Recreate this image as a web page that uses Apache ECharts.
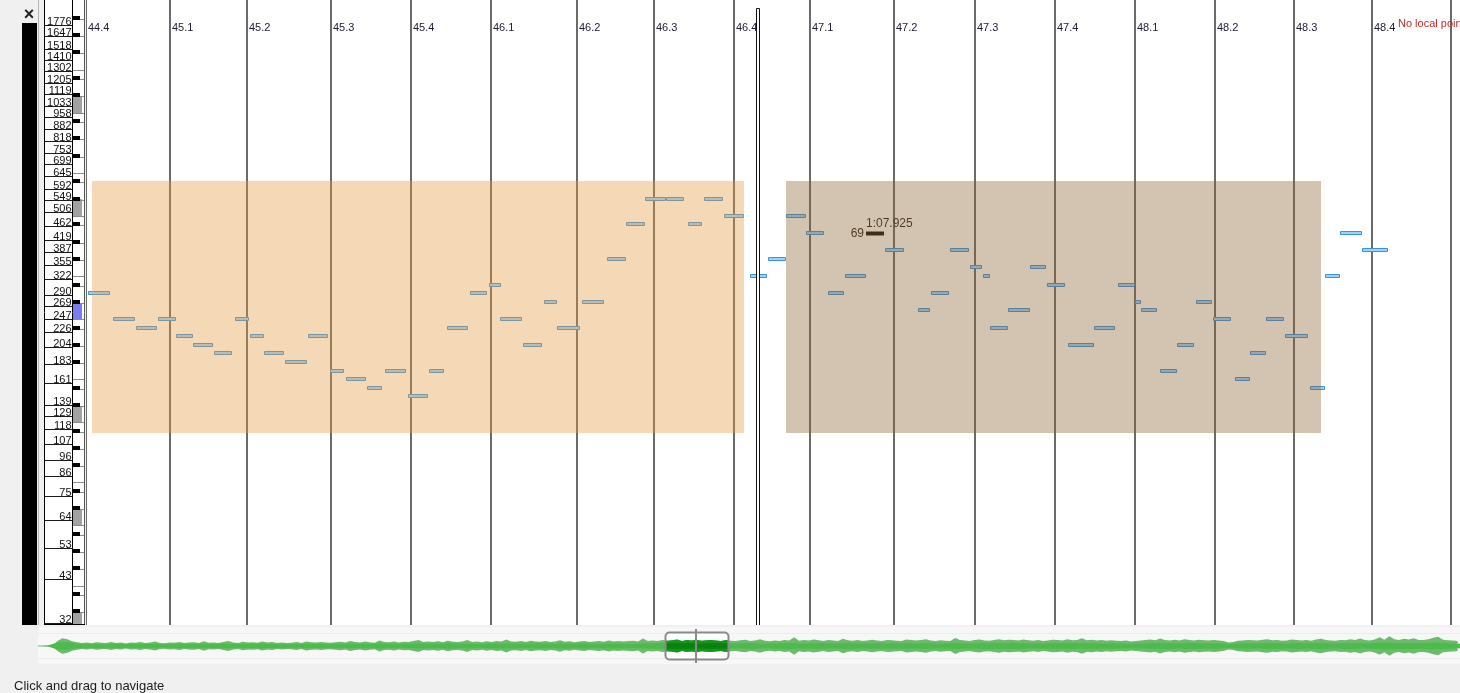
<!DOCTYPE html>
<html>
<head>
<meta charset="utf-8">
<script src="https://cdn.jsdelivr.net/npm/echarts@6/dist/echarts.min.js"></script>
<style>
  html, body { margin: 0; padding: 0; background: #f0f0f0; }
  #chart { width: 1460px; height: 693px; }
</style>
</head>
<body>
<div id="chart"></div>
<script>
// ---- time window of the pitch view (seconds) ----
const VIEW_START = 64.26;
const VIEW_END = 70.717;
const PLAYHEAD = 67.416;

// ---- frequency range of the log pitch axis (Hz) ----
const FREQ_MIN = 31.63;
const FREQ_MAX = 2104;

// ---- bar.beat grid ----
const beatTimes = [64.260, 64.655, 65.017, 65.411, 65.787, 66.163, 66.567, 66.929, 67.305,
                   67.662, 68.057, 68.438, 68.814, 69.189, 69.565, 69.937, 70.303, 70.674];
const beatLabels = ['44.4', '45.1', '45.2', '45.3', '45.4', '46.1', '46.2', '46.3', '46.4',
                    '47.1', '47.2', '47.3', '47.4', '48.1', '48.2', '48.3', '48.4'];

// ---- frequency scale labels (Hz) ----
const freqLabels = [1776, 1647, 1518, 1410, 1302, 1205, 1119, 1033, 958, 882, 818, 753, 699, 645,
                    592, 549, 506, 462, 419, 387, 355, 322, 290, 269, 247, 226, 204, 183, 161,
                    139, 129, 118, 107, 96, 86, 75, 64, 53, 43, 32];

// ---- piano keyboard range (MIDI) ----
const keyRange = [23, 95];
const middleC = 60;

// ---- notes: start (s), duration (s), MIDI pitch ----
const noteStarts = [
  64.269, 64.387, 64.495, 64.598, 64.683, 64.763, 64.862, 64.960, 65.031, 65.096,
  65.195, 65.303, 65.407, 65.482, 65.580, 65.665, 65.773, 65.872, 65.956, 66.064,
  66.154, 66.205, 66.314, 66.412, 66.473, 66.591, 66.708, 66.798, 66.887, 66.985,
  67.089, 67.164, 67.258, 67.380, 67.465, 67.549, 67.643, 67.747, 67.827, 67.925,
  68.015, 68.170, 68.231, 68.320, 68.414, 68.475, 68.508, 68.593, 68.696, 68.776,
  68.875, 68.997, 69.110, 69.189, 69.218, 69.307, 69.387, 69.476, 69.556, 69.659,
  69.730, 69.805, 69.894, 70.012, 70.082, 70.153, 70.256
];
const noteDurations = [
  0.103, 0.103, 0.099, 0.085, 0.080, 0.094, 0.085, 0.066, 0.066, 0.094,
  0.103, 0.094, 0.066, 0.094, 0.070, 0.099, 0.094, 0.070, 0.099, 0.080,
  0.056, 0.103, 0.089, 0.061, 0.108, 0.103, 0.089, 0.089, 0.099, 0.085,
  0.066, 0.089, 0.094, 0.080, 0.085, 0.094, 0.085, 0.075, 0.099, 0.085,
  0.089, 0.056, 0.085, 0.089, 0.056, 0.033, 0.085, 0.103, 0.075, 0.085,
  0.122, 0.099, 0.080, 0.028, 0.075, 0.080, 0.080, 0.075, 0.085, 0.070,
  0.075, 0.085, 0.108, 0.070, 0.070, 0.103, 0.122
];
const notePitches = [
  62, 59, 58, 59, 57, 56, 55, 59, 57, 55,
  54, 57, 53, 52, 51, 53, 50, 53, 58, 62,
  63, 59, 56, 61, 58, 61, 66, 70, 73, 73,
  70, 73, 71, 64, 66, 71, 69, 62, 64, 69,
  67, 60, 62, 67, 65, 64, 58, 60, 65, 63,
  56, 58, 63, 61, 60, 53, 56, 61, 59, 52,
  55, 59, 57, 51, 64, 69, 67
];
const selectedNote = 39;

// ---- regions: time span and frequency span ----
const regionStarts = [64.288, 67.549];
const regionEnds = [67.352, 70.064];
const regionLow = [115, 115];
const regionHigh = [624, 624];

// ---- overview waveform (whole track) ----
const OVERVIEW_END = 145.74;
const PEAK_STEP = 0.5;   // seconds per peak value
const RMS_STEP = 1;      // seconds per rms value
const wavePeak = [
  0.02, 0.02, 0.03, 0.04, 0.30, 0.45, 0.40, 0.28, 0.22, 0.18, 0.20, 0.16, 0.22, 0.19, 0.17, 0.24, 0.18, 0.20, 0.15, 0.21,
  0.19, 0.23, 0.17, 0.20, 0.26, 0.18, 0.16, 0.21, 0.19, 0.24, 0.17, 0.20, 0.22, 0.18, 0.28, 0.19, 0.21, 0.17, 0.23, 0.30,
  0.21, 0.18, 0.25, 0.20, 0.22, 0.19, 0.27, 0.21, 0.24, 0.18, 0.20, 0.17, 0.19, 0.23, 0.18, 0.26, 0.22, 0.20, 0.24, 0.21,
  0.19, 0.22, 0.25, 0.20, 0.30, 0.23, 0.21, 0.26, 0.22, 0.19, 0.33, 0.24, 0.22, 0.27, 0.21, 0.25, 0.23, 0.29, 0.36, 0.24,
  0.26, 0.23, 0.28, 0.22, 0.31, 0.25, 0.24, 0.27, 0.35, 0.23, 0.26, 0.22, 0.28, 0.24, 0.30, 0.26, 0.38, 0.27, 0.25, 0.29,
  0.24, 0.31, 0.27, 0.25, 0.29, 0.23, 0.26, 0.34, 0.25, 0.28, 0.22, 0.27, 0.30, 0.24, 0.26, 0.29, 0.25, 0.32, 0.27, 0.30,
  0.26, 0.29, 0.31, 0.27, 0.44, 0.30, 0.33, 0.29, 0.36, 0.31, 0.34, 0.38, 0.30, 0.35, 0.33, 0.37, 0.31, 0.34, 0.36, 0.32,
  0.30, 0.35, 0.31, 0.29, 0.34, 0.37, 0.30, 0.33, 0.40, 0.31, 0.28, 0.33, 0.30, 0.36, 0.32, 0.52, 0.31, 0.35, 0.33, 0.38,
  0.34, 0.30, 0.36, 0.33, 0.29, 0.42, 0.34, 0.31, 0.35, 0.30, 0.33, 0.37, 0.32, 0.30, 0.36, 0.34, 0.31, 0.29, 0.38, 0.35,
  0.32, 0.36, 0.40, 0.33, 0.30, 0.34, 0.31, 0.29, 0.47, 0.35, 0.32, 0.30, 0.35, 0.38, 0.33, 0.31, 0.36, 0.40, 0.34, 0.37,
  0.36, 0.33, 0.38, 0.34, 0.31, 0.35, 0.30, 0.33, 0.37, 0.35, 0.33, 0.39, 0.34, 0.36, 0.45, 0.34, 0.37, 0.33, 0.35, 0.31,
  0.34, 0.31, 0.29, 0.33, 0.27, 0.30, 0.33, 0.36, 0.38, 0.34, 0.44, 0.36, 0.33, 0.37, 0.32, 0.39, 0.35, 0.33, 0.37, 0.34,
  0.32, 0.35, 0.33, 0.30, 0.20, 0.24, 0.31, 0.33, 0.36, 0.34, 0.32, 0.37, 0.40, 0.34, 0.36, 0.31, 0.33, 0.38, 0.35, 0.33,
  0.35, 0.31, 0.38, 0.42, 0.36, 0.33, 0.31, 0.35, 0.34, 0.39, 0.36, 0.44, 0.35, 0.33, 0.38, 0.52, 0.37, 0.58, 0.40, 0.36,
  0.42, 0.38, 0.45, 0.36, 0.35, 0.40, 0.48, 0.55, 0.37, 0.34, 0.32, 0.30
];
const waveRms = [
  0.02, 0.03, 0.20, 0.22, 0.13, 0.10, 0.11, 0.09, 0.12, 0.10,
  0.11, 0.12, 0.10, 0.09, 0.11, 0.12, 0.10, 0.10, 0.12, 0.13,
  0.11, 0.10, 0.12, 0.13, 0.11, 0.10, 0.09, 0.11, 0.12, 0.12,
  0.10, 0.11, 0.13, 0.12, 0.11, 0.14, 0.12, 0.11, 0.12, 0.15,
  0.13, 0.12, 0.14, 0.12, 0.13, 0.11, 0.12, 0.14, 0.15, 0.13,
  0.12, 0.15, 0.13, 0.12, 0.14, 0.12, 0.14, 0.12, 0.13, 0.14,
  0.13, 0.12, 0.14, 0.15, 0.17, 0.16, 0.18, 0.16, 0.15, 0.17,
  0.16, 0.14, 0.15, 0.17, 0.14, 0.13, 0.16, 0.18, 0.14, 0.15,
  0.17, 0.14, 0.15, 0.18, 0.15, 0.14, 0.16, 0.15, 0.14, 0.16,
  0.15, 0.17, 0.15, 0.14, 0.18, 0.15, 0.14, 0.17, 0.16, 0.17,
  0.17, 0.16, 0.14, 0.15, 0.17, 0.16, 0.18, 0.16, 0.17, 0.15,
  0.16, 0.14, 0.13, 0.15, 0.16, 0.18, 0.17, 0.15, 0.17, 0.16,
  0.15, 0.16, 0.10, 0.14, 0.16, 0.15, 0.17, 0.16, 0.15, 0.17,
  0.15, 0.17, 0.16, 0.15, 0.18, 0.17, 0.15, 0.18, 0.20, 0.17,
  0.18, 0.17, 0.16, 0.20, 0.17, 0.14, 0.13
];

// ---------------------------------------------------------------------------
const FONT = '"Liberation Sans", Arial, sans-serif';
const pitchHz = m => 440 * Math.pow(2, (m - 69) / 12);

function fmtTime(t) {
  const m = Math.floor(t / 60);
  const s = t - m * 60;
  return m + ':' + (s < 10 ? '0' : '') + s.toFixed(3);
}

function txt(x, y, text, fill, font, align, valign, extra) {
  return Object.assign({
    type: 'text', x: x, y: y,
    style: {
      text: text, fill: fill, font: font,
      align: align, textAlign: align, verticalAlign: valign, textVerticalAlign: valign
    }
  }, extra || {});
}

// notes
const noteData = noteStarts.map((s, i) => [s, pitchHz(notePitches[i]), noteDurations[i], i, notePitches[i]]);

function renderNote(params, api) {
  const idx = api.value(3);
  const hz = api.value(1);
  const p0 = api.coord([api.value(0), hz]);
  const p1 = api.coord([api.value(0) + api.value(2), hz]);
  const xa = Math.round(p0[0]), xb = Math.round(p1[0]);
  const y = Math.round(p0[1]);
  if (idx === selectedNote) {
    return {
      type: 'group',
      children: [
        { type: 'rect', shape: { x: xa, y: y - 1.5, width: xb - xa, height: 4 }, style: { fill: '#140c06' } },
        txt(xa - 2, y + 0.5, String(api.value(4)), '#2a2118', '12px ' + FONT, 'right', 'middle'),
        txt(xa, y - 9, fmtTime(api.value(0)), '#2a1f1a', '12px ' + FONT, 'left', 'middle')
      ]
    };
  }
  return {
    type: 'rect',
    shape: { x: xa + 0.5, y: y - 1.5, width: xb - xa - 1, height: 3 },
    style: { fill: '#a3d0f6', stroke: '#3893e2', lineWidth: 1 }
  };
}

// regions
const regionData = regionStarts.map((s, i) => [s, regionLow[i], regionEnds[i], regionHigh[i], i]);
const regionFills = ['rgba(229,155,63,0.38)', 'rgba(139,100,52,0.38)'];
function renderRegion(params, api) {
  const a = api.coord([api.value(0), api.value(3)]);
  const b = api.coord([api.value(2), api.value(1)]);
  return {
    type: 'rect',
    shape: { x: Math.round(a[0]), y: Math.round(a[1]), width: Math.round(b[0]) - Math.round(a[0]), height: Math.round(b[1]) - Math.round(a[1]) },
    style: { fill: regionFills[api.value(4)] }
  };
}

// beat lines and labels
const beatData = beatTimes.map((t, i) => [t, FREQ_MAX, i]);
function renderBeatLine(params, api) {
  const cs = params.coordSys;
  const x = Math.round(api.coord([api.value(0), FREQ_MAX])[0]);
  return {
    type: 'line',
    shape: { x1: x, y1: cs.y, x2: x, y2: cs.y + cs.height },
    style: { stroke: '#6a6a6a', lineWidth: 2 }
  };
}
function renderBeatLabel(params, api) {
  const label = beatLabels[api.value(2)];
  if (label === undefined) return null;
  const x = Math.round(api.coord([api.value(0), FREQ_MAX])[0]);
  return txt(x + 2, params.coordSys.y + 28, label, '#1c1c36', '11px ' + FONT, 'left', 'middle');
}

// playhead in the main view
function renderPlayhead(params, api) {
  const cs = params.coordSys;
  const x = Math.round(api.coord([api.value(0), FREQ_MAX])[0]);
  return {
    type: 'rect',
    shape: { x: x - 1.5, y: cs.y + 8.5, width: 3, height: cs.height - 8 },
    style: { fill: '#ffffff', stroke: '#111111', lineWidth: 1 }
  };
}

// frequency labels column
const freqData = freqLabels.map(f => [0, f]);
function renderFreqLabel(params, api) {
  const x0 = params.coordSys.x;
  const y = Math.round(api.coord([0, api.value(1)])[1]);
  return {
    type: 'group',
    children: [
      { type: 'line', shape: { x1: x0, y1: y + 0.5, x2: x0 + 28, y2: y + 0.5 }, style: { stroke: '#1a1a1a', lineWidth: 1 } },
      txt(x0 + 27.5, y + 2, String(api.value(1)), '#111', '11px ' + FONT, 'right', 'bottom')
    ]
  };
}

// piano keyboard strip
const keyData = [];
for (let m = keyRange[0]; m <= keyRange[1]; m++) keyData.push([0, pitchHz(m), m]);
function renderKey(params, api) {
  const x0 = params.coordSys.x + 28;
  const m = api.value(2);
  const hz = api.value(1);
  const pc = ((m % 12) + 12) % 12;
  const yAt = k => api.coord([0, hz * Math.pow(2, k / 12)])[1];
  const yc = Math.round(yAt(0));
  const kids = [];
  if (pc === 1 || pc === 3 || pc === 6 || pc === 8 || pc === 10) {
    kids.push({ type: 'line', shape: { x1: x0, y1: yc + 1.5, x2: x0 + 12, y2: yc + 1.5 }, style: { stroke: '#8c8c8c', lineWidth: 1 } });
    kids.push({ type: 'rect', shape: { x: x0 + 1, y: yc - 2, width: 7, height: 4 }, style: { fill: '#000' } });
  } else if (pc === 0 || pc === 5) {
    const yb = Math.round(yAt(-1.0));
    if (pc === 0) {
      const yt = Math.round(yAt(0.9));
      kids.push({ type: 'rect', shape: { x: x0 + 1, y: yt, width: 9, height: yb - yt }, style: { fill: m === middleC ? '#7b7bf2' : '#a2a2a2' } });
    }
    kids.push({ type: 'line', shape: { x1: x0, y1: yb + 0.5, x2: x0 + 12, y2: yb + 0.5 }, style: { stroke: '#8c8c8c', lineWidth: 1 } });
  }
  return { type: 'group', children: kids };
}

// overview waveform
function interp(arr, step, t) {
  const f = t / step;
  const i = Math.min(Math.floor(f), arr.length - 1);
  const w = f - i;
  return arr[i] * (1 - w) + arr[Math.min(i + 1, arr.length - 1)] * w;
}
function envelope(api, arr, step, a, b) {
  const top = [], bot = [];
  const push = (t, v) => { top.push(api.coord([t, v])); bot.unshift(api.coord([t, -v])); };
  b = Math.min(b, (arr.length - 1) * step);
  push(a, interp(arr, step, a));
  for (let i = Math.ceil(a / step); i * step < b && i < arr.length; i++) {
    if (i * step > a) push(i * step, arr[i]);
  }
  push(b, interp(arr, step, b));
  return top.concat(bot);
}
function renderWave(params, api) {
  return {
    type: 'group',
    children: [
      { type: 'polygon', shape: { points: envelope(api, wavePeak, PEAK_STEP, 0, OVERVIEW_END) }, style: { fill: '#6abb6a' } },
      { type: 'polygon', shape: { points: envelope(api, waveRms, RMS_STEP, 0, OVERVIEW_END) }, style: { fill: '#4cbb4c' } },
      { type: 'polygon', shape: { points: envelope(api, wavePeak, PEAK_STEP, VIEW_START, VIEW_END) }, style: { fill: '#15951a' } },
      { type: 'polygon', shape: { points: envelope(api, waveRms, RMS_STEP, VIEW_START, VIEW_END) }, style: { fill: '#0a8210' } }
    ]
  };
}
function renderViewBox(fillOnly) {
  return function (params, api) {
    const cs = params.coordSys;
    const a = api.coord([api.value(0), 0]);
    const b = api.coord([api.value(1), 0]);
    const x = Math.round(a[0]) + 0.5, w = Math.round(b[0]) - Math.round(a[0]);
    return {
      type: 'rect',
      shape: { x: x, y: cs.y + 3.5, width: w, height: cs.height - 7, r: 4 },
      style: fillOnly ? { fill: '#ffffff' } : { fill: 'none', stroke: '#8a8a8a', lineWidth: 2 }
    };
  };
}
function renderOverviewPlayhead(params, api) {
  const cs = params.coordSys;
  const x = Math.round(api.coord([api.value(0), 0])[0]);
  return { type: 'line', shape: { x1: x, y1: cs.y, x2: x, y2: cs.y + cs.height }, style: { stroke: '#8a8a8a', lineWidth: 2 } };
}

const chart = echarts.init(document.getElementById('chart'), null, { renderer: 'canvas' });
chart.setOption({
  animation: false,
  backgroundColor: '#f0f0f0',
  grid: [
    { left: 86, top: 0, width: 1374, height: 625 },
    { left: 44, top: 0, width: 40, height: 625 },
    { left: 38, top: 629, width: 1422, height: 34 }
  ],
  xAxis: [
    { gridIndex: 0, type: 'value', min: VIEW_START, max: VIEW_END, show: false },
    { gridIndex: 1, type: 'value', min: 0, max: 1, show: false },
    { gridIndex: 2, type: 'value', min: 0, max: OVERVIEW_END, show: false }
  ],
  yAxis: [
    { gridIndex: 0, type: 'log', logBase: 2, min: FREQ_MIN, max: FREQ_MAX, show: false },
    { gridIndex: 1, type: 'log', logBase: 2, min: FREQ_MIN, max: FREQ_MAX, show: false },
    { gridIndex: 2, type: 'value', min: -1, max: 1, show: false }
  ],
  graphic: [
    // panel backgrounds and frames
    { type: 'rect', z: -10, shape: { x: 86, y: 0, width: 1374, height: 625 }, style: { fill: '#ffffff' } },
    { type: 'rect', z: -10, shape: { x: 44, y: 0, width: 41, height: 625 }, style: { fill: '#ffffff' } },
    { type: 'rect', z: -10, shape: { x: 38, y: 627, width: 1422, height: 37 }, style: { fill: '#f7f7f7' } },
    { type: 'line', z: -9, shape: { x1: 38, y1: 633.5, x2: 1460, y2: 633.5 }, style: { stroke: '#ececec', lineWidth: 1 } },
    { type: 'line', z: -9, shape: { x1: 38, y1: 658.5, x2: 1460, y2: 658.5 }, style: { stroke: '#ececec', lineWidth: 1 } },
    { type: 'rect', z: 1, shape: { x: 22, y: 23, width: 15, height: 602 }, style: { fill: '#000000' } },
    { type: 'line', z: 1, shape: { x1: 38.5, y1: 0, x2: 38.5, y2: 625 }, style: { stroke: '#b4b4b4', lineWidth: 1 } },
    { type: 'line', z: 8, shape: { x1: 44.5, y1: 0, x2: 44.5, y2: 625 }, style: { stroke: '#000', lineWidth: 1 } },
    { type: 'line', z: 8, shape: { x1: 72.5, y1: 0, x2: 72.5, y2: 625 }, style: { stroke: '#000', lineWidth: 1 } },
    { type: 'line', z: 8, shape: { x1: 84.5, y1: 0, x2: 84.5, y2: 625 }, style: { stroke: '#555', lineWidth: 1 } },
    { type: 'line', z: 8, shape: { x1: 44, y1: 624.5, x2: 85, y2: 624.5 }, style: { stroke: '#000', lineWidth: 1 } },
    txt(29, 15, '×', '#222', 'bold 18px ' + FONT, 'center', 'middle', { z: 8 }),
    txt(1398, 24, 'No local points', '#c62a22', '11px ' + FONT, 'left', 'middle', { z: 4 }),
    txt(14, 686, 'Click and drag to navigate', '#1e1e1e', '13px ' + FONT, 'left', 'middle', { z: 8 })
  ],
  series: [
    { type: 'custom', name: 'beats', xAxisIndex: 0, yAxisIndex: 0, z: 2, clip: true,
      data: beatData, encode: { x: 0, y: 1 }, renderItem: renderBeatLine, silent: true },
    { type: 'custom', name: 'notes', xAxisIndex: 0, yAxisIndex: 0, z: 3, clip: true,
      data: noteData, encode: { x: 0, y: 1 }, renderItem: renderNote, silent: true },
    { type: 'custom', name: 'regions', xAxisIndex: 0, yAxisIndex: 0, z: 4, clip: true,
      data: regionData, encode: { x: [0, 2], y: [1, 3] }, renderItem: renderRegion, silent: true },
    { type: 'custom', name: 'beatLabels', xAxisIndex: 0, yAxisIndex: 0, z: 5, clip: false,
      data: beatData, encode: { x: 0, y: 1 }, renderItem: renderBeatLabel, silent: true },
    { type: 'custom', name: 'playhead', xAxisIndex: 0, yAxisIndex: 0, z: 6, clip: true,
      data: [[PLAYHEAD, FREQ_MAX]], encode: { x: 0, y: 1 }, renderItem: renderPlayhead, silent: true },
    { type: 'custom', name: 'keys', xAxisIndex: 1, yAxisIndex: 1, z: 3, clip: true,
      data: keyData, encode: { x: 0, y: 1 }, renderItem: renderKey, silent: true },
    { type: 'custom', name: 'freqLabels', xAxisIndex: 1, yAxisIndex: 1, z: 4, clip: false,
      data: freqData, encode: { x: 0, y: 1 }, renderItem: renderFreqLabel, silent: true },
    { type: 'custom', name: 'viewBoxFill', xAxisIndex: 2, yAxisIndex: 2, z: 1, clip: true,
      data: [[VIEW_START, VIEW_END]], encode: { x: [0, 1] }, renderItem: renderViewBox(true), silent: true },
    { type: 'custom', name: 'waveform', xAxisIndex: 2, yAxisIndex: 2, z: 2, clip: true,
      data: [[0, 0]], encode: { x: 0, y: 1 }, renderItem: renderWave, silent: true },
    { type: 'custom', name: 'viewBox', xAxisIndex: 2, yAxisIndex: 2, z: 3, clip: false,
      data: [[VIEW_START, VIEW_END]], encode: { x: [0, 1] }, renderItem: renderViewBox(false), silent: true },
    { type: 'custom', name: 'overviewPlayhead', xAxisIndex: 2, yAxisIndex: 2, z: 4, clip: true,
      data: [[PLAYHEAD, 0]], encode: { x: 0, y: 1 }, renderItem: renderOverviewPlayhead, silent: true }
  ]
});
</script>
</body>
</html>
